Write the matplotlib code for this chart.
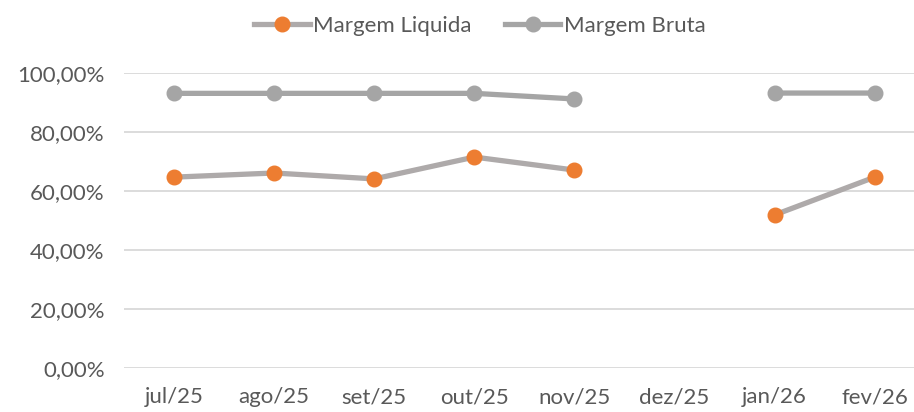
import matplotlib
matplotlib.use("Agg")
import matplotlib.pyplot as plt
import numpy as np

categories = ["jul/25", "ago/25", "set/25", "out/25", "nov/25", "dez/25", "jan/26", "fev/26"]
margem_liquida = [64.7, 66.1, 64.1, 71.5, 67.1, np.nan, 51.9, 64.7]
margem_bruta = [93.1, 93.1, 93.1, 93.1, 91.2, np.nan, 93.2, 93.2]
yticks = [0, 20, 40, 60, 80, 100]
ytick_labels = ["0,00%", "20,00%", "40,00%", "60,00%", "80,00%", "100,00%"]

plt.rcParams['font.family'] = ['Lato', 'DejaVu Sans']
text_color = "#595959"

fig = plt.figure(figsize=(9.14, 4.12), dpi=100)
ax = fig.add_axes([124/914, 44/412, 790/914, 295/412])

x = np.arange(len(categories))
ax.plot(x, margem_liquida, color="#AEAAAA", lw=3.8, marker="o", ms=10.5,
        markerfacecolor="#ED7D31", markeredgecolor="#ED7D31", label="Margem Liquida", zorder=3)
ax.plot(x, margem_bruta, color="#A5A5A5", lw=3.8, marker="o", ms=10.5,
        markerfacecolor="#A5A5A5", markeredgecolor="#A5A5A5", label="Margem Bruta", zorder=3)

ax.set_xlim(-0.5, -0.5 + 790/100.1)
ax.set_ylim(0, 100)
ax.set_yticks(yticks)
ax.set_yticklabels(ytick_labels)
ax.set_xticks(x)
ax.set_xticklabels(categories)
ax.grid(axis="y", color="#D9D9D9", lw=1.3)
ax.set_axisbelow(True)
for s in ax.spines.values():
    s.set_visible(False)
ax.tick_params(axis="both", length=0, labelsize=16, colors=text_color)
ax.tick_params(axis="x", pad=14)
ax.tick_params(axis="y", pad=14)

leg = fig.legend(loc="upper center", bbox_to_anchor=(0.525, 1.01), ncol=2, frameon=False,
                 fontsize=16, labelcolor=text_color, handlelength=2.5, columnspacing=1.5,
                 handletextpad=0.15)

fig.savefig("out.png", dpi=100)
